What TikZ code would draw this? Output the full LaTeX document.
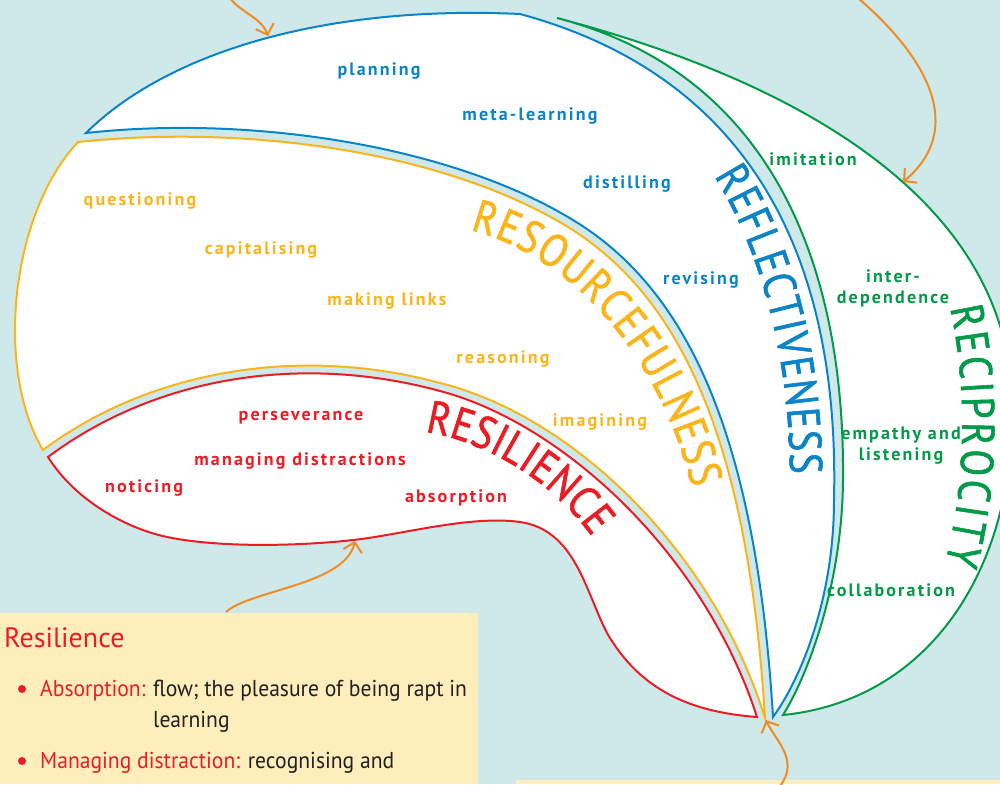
\documentclass[tikz,border=0pt]{standalone}
\usepackage{fontspec}
\setmainfont{PT Sans}
\newfontfamily\tagfont[LetterSpace=12]{PT Sans}
\newfontfamily\wordfont[FakeStretch=0.85,FakeBold=1.2]{PT Sans}
\newfontfamily\notefont[FakeStretch=0.94]{PT Sans}
\usepackage{tikz}
\usetikzlibrary{arrows.meta,decorations.text}
\definecolor{seax}{HTML}{CFE8E9}
\definecolor{bluex}{HTML}{0A84C8}
\definecolor{goldx}{HTML}{FBB51A}
\definecolor{redx}{HTML}{EB1C24}
\definecolor{greenx}{HTML}{009A48}
\definecolor{orangex}{HTML}{F08C23}
\definecolor{notex}{HTML}{FEEEBB}
\definecolor{inkx}{HTML}{231F20}
\tikzset{
  ar/.style={-{Straight Barb[length=9pt,width=19pt]},line width=2pt,orangex},
  rim/.style={line width=2pt,fill=white},
  tag/.style={font=\tagfont\bfseries\fontsize{18}{21}\selectfont,inner sep=0pt,align=center},
  notes/.style={font=\notefont\fontsize{23}{27}\selectfont,inner sep=0pt,anchor=base west,text=inkx}
}
\newcommand{\arcword}[3]{%
  \path[decorate,decoration={text along path,text align={fit to path},text color=#1,
    text={|\wordfont\fontsize{46}{46}\selectfont|#2}}] #3;}

\begin{document}
\begin{tikzpicture}[x=1pt,y=-1pt]
\useasboundingbox (0,0) rectangle (1000,784);
\clip (0,0) rectangle (1000,784);
\fill[seax] (0,0) rectangle (1000,784);

\filldraw[rim,draw=greenx] (557,18) .. controls (830,90) and (1020,220) .. (1012,420)
  .. controls (1010,570) and (930,700) .. (783,715)
  .. controls (805,680) and (842,590) .. (843,480)
  .. controls (845,255) and (765,72) .. cycle;
\filldraw[rim,draw=bluex] (86,133) .. controls (170,50) and (330,5) .. (520,14)
  .. controls (745,75) and (840,250) .. (834,500)
  .. controls (834,600) and (800,680) .. (773,717)
  .. controls (755,420) and (680,285) .. (573,220)
  .. controls (450,145) and (250,115) .. cycle;
\filldraw[rim,draw=goldx] (78,142) .. controls (250,124) and (445,152) .. (568,227)
  .. controls (673,292) and (747,425) .. (765,718)
  .. controls (712,548) and (570,415) .. (440,383)
  .. controls (300,345) and (150,370) .. (43,450)
  .. controls (-5,370) and (10,215) .. cycle;
\filldraw[rim,draw=redx] (48,457) .. controls (155,377) and (300,353) .. (440,391)
  .. controls (565,424) and (705,556) .. (757,717)
  .. controls (690,712) and (640,690) .. (607,633)
  .. controls (585,590) and (575,530) .. (520,522)
  .. controls (470,515) and (400,535) .. (353,540)
  .. controls (300,546) and (220,548) .. (167,537)
  .. controls (125,528) and (75,500) .. cycle;

\arcword{goldx}{RESOURCEFULNESS}{(470,230) .. controls (572,256) and (660,356) .. (692,488)}
\arcword{bluex}{REFLECTIVENESS}{(714,176) .. controls (754,240) and (789,340) .. (790,474)}
\arcword{greenx}{RECIPROCITY}{(950,308) .. controls (967,385) and (967,480) .. (945,563)}
\arcword{redx}{RESILIENCE}{(425,432) .. controls (482,440) and (552,480) .. (592,537)}

\node[tag,text=bluex] (plan) at (379,71) {planning};
\node[tag,text=bluex] (meta) at (530,116) {meta-learning};
\node[tag,text=bluex] (dist) at (627,184) {distilling};
\node[tag,text=bluex] (revi) at (701,280) {revising};
\node[tag,text=goldx] (ques) at (140,201) {questioning};
\node[tag,text=goldx] (capi) at (261,250) {capitalising};
\node[tag,text=goldx] (link) at (387,301) {making links};
\node[tag,text=goldx] (reas) at (503,359) {reasoning};
\node[tag,text=goldx] (imag) at (600,422) {imagining};
\node[tag,text=redx] (pers) at (301,418) {perseverance};
\node[tag,text=redx] (mana) at (300,461) {managing distractions};
\node[tag,text=redx] (noti) at (144,488) {noticing};
\node[tag,text=redx] (abso) at (456,498) {absorption};
\node[tag,text=greenx] (imit) at (813,159) {imitation};
\node[tag,text=greenx] (inte) at (893,288) {inter-\\dependence};
\node[tag,text=greenx] (empa) at (901,446) {empathy and\\listening};
\node[tag,text=greenx] (coll) at (891,590) {collaboration};

\fill[notex] (0,613) rectangle (478,784);
\fill[notex] (516,780) rectangle (1000,784);
\node[notes,font=\fontsize{28}{30}\selectfont,text=redx] (head) at (4,647) {Resilience};
\fill[redx] (22,689) circle (4pt);
\node[notes] (abs1) at (40,696) {\textcolor{redx}{Absorption:} flow; the pleasure of being rapt in};
\node[notes] (abs2) at (153,727) {learning};
\fill[redx] (22,761) circle (4pt);
\node[notes] (dis1) at (40,768) {\textcolor{redx}{Managing distraction:} recognising and};

\coordinate (t1) at (230,-2);  \coordinate (h1) at (268,36);
\coordinate (t2) at (858,-2);  \coordinate (h2) at (903,182);
\coordinate (t3) at (226,612); \coordinate (h3) at (355,541);
\coordinate (t4) at (780,786); \coordinate (h4) at (766,720);
\draw[ar] (t1) .. controls (240,12) and (262,18) .. (h1);
\draw[ar] (t2) .. controls (930,60) and (965,130) .. (h2);
\draw[ar] (t3) .. controls (250,590) and (345,585) .. (h3);
\draw[ar] (t4) .. controls (800,760) and (775,740) .. (h4);
\end{tikzpicture}
\end{document}
